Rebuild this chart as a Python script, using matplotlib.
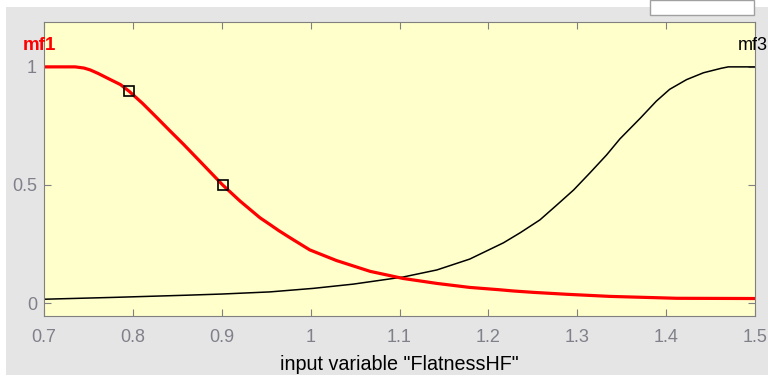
import matplotlib.pyplot as plt
from matplotlib.patches import Rectangle

# membership values
mf1_x = [0.70, 0.735, 0.745, 0.752, 0.761, 0.771, 0.786, 0.796, 0.811, 0.827, 0.842,
         0.857, 0.876, 0.901, 0.9205, 0.943, 0.954, 0.964, 0.977, 0.999, 1.029, 1.067,
         1.104, 1.142, 1.179, 1.213, 1.228, 1.251, 1.288, 1.337, 1.412, 1.50]
mf1_y = [1.0, 1.0, 0.995, 0.987, 0.972, 0.953, 0.925, 0.896, 0.845, 0.785, 0.728,
         0.672, 0.598, 0.50, 0.432, 0.361, 0.333, 0.307, 0.276, 0.225, 0.18, 0.134,
         0.104, 0.083, 0.066, 0.056, 0.051, 0.045, 0.037, 0.028, 0.02, 0.019]

mf3_x = [0.70, 0.78, 0.86, 0.90, 0.954, 1.003, 1.048, 1.104, 1.142, 1.179, 1.217, 1.236,
         1.258, 1.277, 1.296, 1.314, 1.333, 1.348, 1.371, 1.389, 1.404, 1.423, 1.442,
         1.462, 1.47, 1.50]
mf3_y = [0.016, 0.024, 0.033, 0.038, 0.047, 0.062, 0.08, 0.11, 0.14, 0.186, 0.255, 0.298,
         0.352, 0.415, 0.479, 0.55, 0.627, 0.695, 0.783, 0.855, 0.905, 0.946, 0.975,
         0.994, 1.0, 1.0]

marker_x = [0.796, 0.901]
marker_y = [0.896, 0.50]

xticks = [0.7, 0.8, 0.9, 1.0, 1.1, 1.2, 1.3, 1.4, 1.5]
xticklabels = ['0.7', '0.8', '0.9', '1', '1.1', '1.2', '1.3', '1.4', '1.5']
yticks = [0, 0.5, 1]
yticklabels = ['0', '0.5', '1']

plt.rcParams['font.family'] = ['Liberation Sans', 'DejaVu Sans']

fig = plt.figure(figsize=(7.68, 3.75), dpi=100, facecolor='white')
# gray panel behind the axes
fig.patches.append(Rectangle((6 / 768, 0), 1, 1 - 7 / 375, transform=fig.transFigure,
                             facecolor='#e5e5e5', edgecolor='none', zorder=-2))
# white box at top right
fig.patches.append(Rectangle((650 / 768, 1 - 15 / 375), 104 / 768, 15 / 375,
                             transform=fig.transFigure, facecolor='white',
                             edgecolor='#a0a0a0', linewidth=1, zorder=-1))

ax = fig.add_axes([44 / 768, 1 - 316 / 375, 711 / 768, 294 / 375])
ax.set_zorder(5)
ax.set_facecolor('#ffffcc')

ax.plot(mf3_x, mf3_y, color='black', linewidth=1.1)
ax.plot(mf1_x, mf1_y, color='#ff0000', linewidth=2.3)
ax.plot(marker_x, marker_y, linestyle='none', marker='s', markersize=7,
        markerfacecolor='none', markeredgecolor='black', markeredgewidth=1.2)

ax.set_xlim(0.7, 1.5)
ax.set_ylim(-0.055, 1.19)
ax.set_xticks(xticks)
ax.set_xticklabels(xticklabels)
ax.set_yticks(yticks)
ax.set_yticklabels(yticklabels)
ax.tick_params(direction='in', length=5, color='#808080', labelcolor='#80808a',
               labelsize=13, top=True, right=True)
ax.tick_params(axis='x', pad=9)
ax.tick_params(axis='y', pad=5)
for s in ax.spines.values():
    s.set_color('#808080')

ax.text(0.6764, 1.09, 'mf1', color='#ff0000', fontsize=13.5, fontweight='bold',
        ha='left', va='center', clip_on=False)
ax.text(1.481, 1.09, 'mf3', color='black', fontsize=13, ha='left', va='center',
        clip_on=False)

ax.set_xlabel('input variable "FlatnessHF"', fontsize=14.2, labelpad=7)

fig.savefig('out.png', dpi=100, facecolor=fig.get_facecolor())
